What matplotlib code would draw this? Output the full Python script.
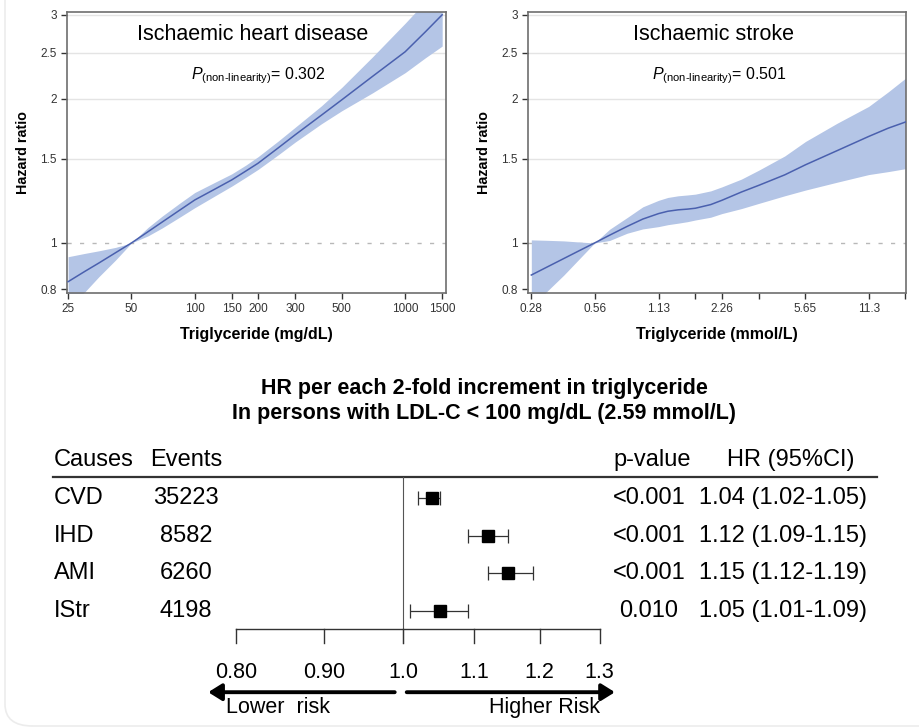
import numpy as np
import matplotlib
matplotlib.use("Agg")
import matplotlib.pyplot as plt
from matplotlib.patches import FancyBboxPatch

plt.rcParams['font.family'] = ['Liberation Sans', 'DejaVu Sans']
plt.rcParams['mathtext.fontset'] = 'custom'
plt.rcParams['mathtext.rm'] = 'Liberation Sans'
plt.rcParams['mathtext.it'] = 'Liberation Sans:italic'

# --- spline curves ---
tg_mg = [25, 30, 35, 42, 50, 60, 70, 85, 100, 125, 150, 175, 200, 250, 300, 400, 500, 700, 1000, 1250, 1500]
ihd_hr = [0.830, 0.872, 0.908, 0.954, 1.0, 1.056, 1.106, 1.172, 1.230, 1.297, 1.355, 1.414, 1.468, 1.582,
          1.683, 1.850, 1.992, 2.230, 2.510, 2.765, 3.000]
ihd_lo = [0.737, 0.790, 0.850, 0.921, 1.0, 1.035, 1.075, 1.133, 1.185, 1.255, 1.315, 1.372, 1.425, 1.530,
          1.625, 1.775, 1.890, 2.060, 2.270, 2.440, 2.580]
ihd_hi = [0.936, 0.951, 0.963, 0.979, 1.0, 1.078, 1.138, 1.212, 1.275, 1.340, 1.395, 1.455, 1.515, 1.635,
          1.745, 1.935, 2.115, 2.450, 2.880, 3.200, 3.500]

tg_mmol = [0.28, 0.33, 0.40, 0.47, 0.56, 0.66, 0.80, 0.95, 1.13, 1.25, 1.40, 1.55, 1.69, 2.00, 2.26, 2.80,
           3.39, 4.50, 5.65, 8.00, 11.3, 14.0, 16.9]
istr_hr = [0.857, 0.889, 0.928, 0.962, 1.0, 1.038, 1.083, 1.122, 1.152, 1.165, 1.173, 1.177, 1.182, 1.203,
           1.228, 1.278, 1.320, 1.388, 1.457, 1.560, 1.670, 1.738, 1.790]
istr_lo = [0.730, 0.790, 0.857, 0.923, 1.0, 1.012, 1.048, 1.070, 1.082, 1.092, 1.100, 1.108, 1.117, 1.132,
           1.152, 1.180, 1.210, 1.255, 1.290, 1.340, 1.390, 1.410, 1.430]
istr_hi = [1.015, 1.013, 1.010, 1.005, 1.0, 1.068, 1.130, 1.190, 1.228, 1.245, 1.255, 1.260, 1.265, 1.285,
           1.310, 1.360, 1.420, 1.520, 1.630, 1.780, 1.930, 2.070, 2.210]

y_ticks = [0.8, 1, 1.5, 2, 2.5, 3]
mg_ticks = [25, 50, 100, 150, 200, 300, 500, 1000, 1500]
mmol_ticks = [0.28, 0.56, 1.13, 1.69, 2.26, 3.39, 5.65, 11.3, 16.9]
mmol_labels = ['0.28', '0.56', '1.13', '', '2.26', '', '5.65', '11.3', '']

# --- forest plot ---
causes = ['CVD', 'IHD', 'AMI', 'IStr']
events = ['35223', '8582', '6260', '4198']
hr = [1.04, 1.12, 1.15, 1.05]
hr_lo = [1.02, 1.09, 1.12, 1.01]
hr_hi = [1.05, 1.15, 1.19, 1.09]
pvals = ['<0.001', '<0.001', '<0.001', '0.010']
hr_text = ['1.04 (1.02-1.05)', '1.12 (1.09-1.15)', '1.15 (1.12-1.19)', '1.05 (1.01-1.09)']
forest_ticks = [0.80, 0.90, 1.0, 1.1, 1.2, 1.3]
forest_labels = ['0.80', '0.90', '1.0', '1.1', '1.2', '1.3']

band_col = '#b4c5e6'
line_col = '#4a60ae'
W, H = 919, 728

fig = plt.figure(figsize=(W / 100, H / 100), dpi=100)


def spline_panel(rect, x, y, lo, hi, xlim, ticks, labels, title, ptxt, xlabel):
    ax = fig.add_axes(rect)
    ax.set_xscale('log')
    ax.set_yscale('log')
    for g in [1.5, 2, 2.5, 3]:
        ax.axhline(g, color='#e4e4e4', lw=1.0, zorder=0)
    ax.axhline(1, color='#b8b8b8', lw=1.0, ls=(0, (3, 6)), zorder=1)
    ax.fill_between(x, lo, hi, color=band_col, lw=0, zorder=2)
    ax.plot(x, y, color=line_col, lw=1.1, zorder=3)
    ax.set_xlim(*xlim)
    ax.set_ylim(0.786, 3.04)
    ax.set_xticks(ticks)
    ax.set_xticklabels(labels)
    ax.set_yticks(y_ticks)
    ax.set_yticklabels([str(t) for t in y_ticks])
    ax.minorticks_off()
    ax.tick_params(labelsize=8.5, colors='#333333', length=4, width=1)
    for s in ax.spines.values():
        s.set_color('#6e6e6e')
        s.set_linewidth(1.2)
    ax.set_ylabel('Hazard ratio', fontsize=10.3, fontweight='bold', labelpad=7)
    ax.set_xlabel(xlabel, fontsize=11.5, fontweight='bold', labelpad=8)
    ax.text(0.49, 0.92, title, transform=ax.transAxes, ha='center', va='center', fontsize=15.5)
    ax.text(0.505, 0.772, '$\\mathit{P}_{\\mathrm{(non\u2010linearity)}}$= ' + ptxt, transform=ax.transAxes,
            ha='center', va='center', fontsize=11.5)
    return ax


spline_panel([67 / W, 1 - 293 / H, 379 / W, 281 / H], tg_mg, ihd_hr, ihd_lo, ihd_hi, (24.7, 1564),
             mg_ticks, [str(t) for t in mg_ticks], 'Ischaemic heart disease', '0.302', 'Triglyceride (mg/dL)')
spline_panel([528 / W, 1 - 293 / H, 378 / W, 281 / H], tg_mmol, istr_hr, istr_lo, istr_hi, (0.27, 17.0),
             mmol_ticks, mmol_labels, 'Ischaemic stroke', '0.501', 'Triglyceride (mmol/L)')

# forest panel: whole width, log x so that 1.0 sits at px 403 (749 px per log unit)
axf = fig.add_axes([0, 0, 1, 358 / H])
axf.set_xscale('log')
axf.set_xlim(np.exp(-403 / 749), np.exp((W - 403) / 749))
axf.set_ylim(6.10, -3.40)
axf.axis('off')
rows = np.arange(len(causes))
tx = axf.get_yaxis_transform()  # x in axes fraction, y in data

axf.text(484 / W, -2.92, 'HR per each 2-fold increment in triglyceride', transform=tx, ha='center',
         va='center', fontsize=15.5, fontweight='bold')
axf.text(484 / W, -2.25, 'In persons with LDL-C < 100 mg/dL (2.59 mmol/L)', transform=tx, ha='center',
         va='center', fontsize=15.5, fontweight='bold')

fs = 17
axf.text(54 / W, -1.02, 'Causes', transform=tx, ha='left', va='center', fontsize=fs)
axf.text(186 / W, -1.02, 'Events', transform=tx, ha='center', va='center', fontsize=fs)
axf.text(652 / W, -1.02, 'p-value', transform=tx, ha='center', va='center', fontsize=fs)
axf.text(791 / W, -1.02, 'HR (95%CI)', transform=tx, ha='center', va='center', fontsize=fs)
axf.plot([53 / W, 877 / W], [-0.55, -0.55], transform=tx, color='#333333', lw=1.6)

for i in rows:
    axf.text(54 / W, i, causes[i], transform=tx, ha='left', va='center', fontsize=fs)
    axf.text(186 / W, i, events[i], transform=tx, ha='center', va='center', fontsize=fs)
    axf.text(649 / W, i, pvals[i], transform=tx, ha='center', va='center', fontsize=fs)
    axf.text(783 / W, i, hr_text[i], transform=tx, ha='center', va='center', fontsize=fs)

err = [np.array(hr) - np.array(hr_lo), np.array(hr_hi) - np.array(hr)]
axf.errorbar(hr, rows, xerr=err, fmt='s', color='black', ms=9, ecolor='#333333', elinewidth=0.9,
             capsize=4.7, capthick=0.9, zorder=3)
axf.plot([1.0, 1.0], [-0.55, 3.85], color='#555555', lw=0.8)

# x axis of forest
axf.plot([forest_ticks[0], forest_ticks[-1]], [3.47, 3.47], color='#333333', lw=1.0)
for t, lab in zip(forest_ticks, forest_labels):
    axf.plot([t, t], [3.47, 3.85], color='#333333', lw=1.0)
    axf.text(t, 4.62, lab, ha='center', va='center', fontsize=15.5)

arrow_style = '-|>,head_length=0.8,head_width=0.5'
axf.annotate('', xy=(0.771, 5.15), xytext=(0.989, 5.15),
             arrowprops=dict(arrowstyle=arrow_style, lw=2.8, color='black', shrinkA=0, shrinkB=0))
axf.annotate('', xy=(1.327, 5.15), xytext=(1.005, 5.15),
             arrowprops=dict(arrowstyle=arrow_style, lw=2.8, color='black', shrinkA=0, shrinkB=0))
axf.text(0.79, 5.55, 'Lower  risk', ha='left', va='center', fontsize=15.5)
axf.text(1.30, 5.55, 'Higher Risk', ha='right', va='center', fontsize=15.5)

# faint rounded frame of the original figure
fig.patches.append(FancyBboxPatch((5 / W, 2 / H), 1.2, 1.2, boxstyle='round,pad=0,rounding_size=0.03',
                                  transform=fig.transFigure, fill=False, ec='#ececec', lw=1.2))

fig.savefig('out.png', dpi=100)
